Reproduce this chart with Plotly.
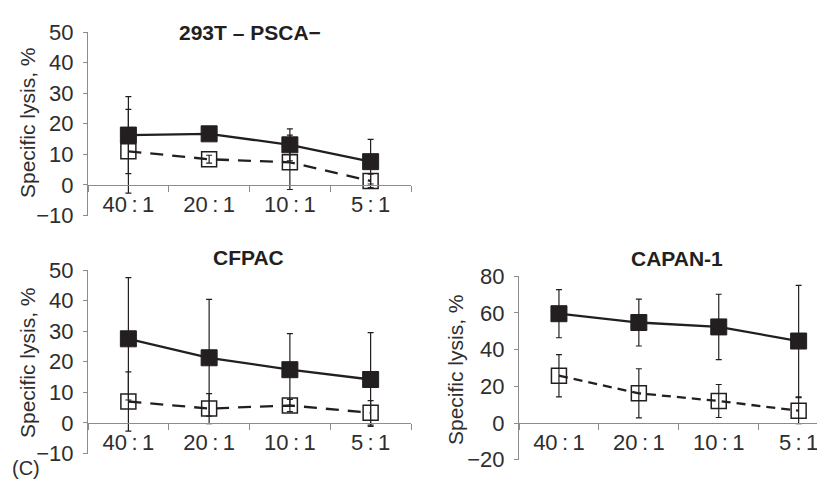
import plotly.graph_objects as go

W, H = 825, 481

ratios = ["40\u2009:\u20091", "20\u2009:\u20091", "10\u2009:\u20091", "5\u2009:\u20091"]

# 293T - PSCA-
p1_filled = [16.3, 16.7, 13.1, 7.6]
p1_filled_err = [12.6, 0.5, 5.2, 7.3]
p1_open = [11.0, 8.4, 7.4, 1.3]
p1_open_err = [13.7, 1.3, 8.9, 2.2]

# CFPAC
p2_filled = [27.5, 21.3, 17.4, 14.2]
p2_filled_err = [20.0, 19.1, 11.8, 15.3]
p2_open = [7.0, 4.7, 5.7, 3.3]
p2_open_err = [9.7, 4.9, 2.0, 4.0]

# CAPAN-1
p3_filled = [59.6, 54.8, 52.4, 44.7]
p3_filled_err = [13.1, 12.8, 17.8, 30.4]
p3_open = [25.8, 16.2, 12.0, 6.7]
p3_open_err = [11.5, 13.4, 9.0, 7.1]

titles = ["293T \u2013 PSCA\u2212", "CFPAC", "CAPAN-1"]
ytitle = "Specific lysis, %"

TXT = "#231f20"
TICKTXT = "#2e2e2e"
AX = "#8c8c8c"
FONT = "Liberation Sans, Arial, sans-serif"

def px_x(p):
    return p / W

def px_y(p):
    return 1 - p / H

panels = [
    dict(xd=[px_x(80), px_x(403)], yd=[px_y(207.5), px_y(24)], yr=[-10, 50], dt=10, xr=[-0.5, 3.5],
         f=p1_filled, fe=p1_filled_err, o=p1_open, oe=p1_open_err, dash="13px,9px"),
    dict(xd=[px_x(80), px_x(403)], yd=[px_y(445.5), px_y(262)], yr=[-10, 50], dt=10, xr=[-0.5, 3.5],
         f=p2_filled, fe=p2_filled_err, o=p2_open, oe=p2_open_err, dash="13px,9px"),
    dict(xd=[px_x(511), 1.0], yd=[px_y(451.7), px_y(268.3)], yr=[-20, 80], dt=20, xr=[-0.5, 3.43],
         f=p3_filled, fe=p3_filled_err, o=p3_open, oe=p3_open_err, dash="9px,6px"),
]

fig = go.Figure()
layout = dict(width=W, height=H, margin=dict(l=0, r=0, t=0, b=0), paper_bgcolor="white",
              plot_bgcolor="white", showlegend=False, font=dict(family=FONT, color=TXT))

for i, p in enumerate(panels, start=1):
    xa = "x" if i == 1 else f"x{i}"
    ya = "y" if i == 1 else f"y{i}"
    fig.add_trace(go.Scatter(x=ratios, y=p["o"], mode="lines+markers", xaxis=xa, yaxis=ya,
                             line=dict(color=TXT, width=2.3, dash=p["dash"]),
                             marker=dict(symbol="square-open", size=15, color=TXT, line=dict(width=1.5, color=TXT))))
    fig.add_trace(go.Scatter(x=ratios, y=p["f"], mode="lines+markers", xaxis=xa, yaxis=ya,
                             line=dict(color=TXT, width=2.3),
                             marker=dict(symbol="square", size=16, color=TXT, line=dict(width=1, color=TXT))))
    for vals, errs in ((p["o"], p["oe"]), (p["f"], p["fe"])):
        fig.add_trace(go.Scatter(x=ratios, y=vals, mode="markers", xaxis=xa, yaxis=ya,
                                 marker=dict(size=1, color="rgba(0,0,0,0)"),
                                 error_y=dict(type="data", array=errs, visible=True, color=TXT,
                                              thickness=1.2, width=3)))
    y0 = p["yd"][0] + (0 - p["yr"][0]) / (p["yr"][1] - p["yr"][0]) * (p["yd"][1] - p["yd"][0])
    kx = "xaxis" if i == 1 else f"xaxis{i}"
    ky = "yaxis" if i == 1 else f"yaxis{i}"
    layout[kx] = dict(domain=p["xd"], type="category", range=p["xr"], anchor="free", position=y0,
                      showline=True, linecolor=AX, linewidth=1, ticks="outside", tickson="boundaries",
                      ticklen=6, tickcolor=AX, tickwidth=1, showgrid=False, zeroline=False,
                      tickfont=dict(size=22, color=TICKTXT, family=FONT), automargin=False)
    layout[ky] = dict(domain=p["yd"], range=p["yr"], dtick=p["dt"], tick0=0, anchor=xa,
                      showline=True, linecolor=AX, linewidth=1, ticks="outside", ticklen=4,
                      tickcolor=AX, tickwidth=1, showgrid=False, zeroline=False, ticklabelstandoff=5,
                      tickfont=dict(size=22, color=TICKTXT, family=FONT), automargin=False)

annotations = [
    dict(text=f"<b>{titles[0]}</b>", x=px_x(242), y=px_y(25)),
    dict(text=f"<b>{titles[1]}</b>", x=px_x(240), y=px_y(249)),
    dict(text=f"<b>{titles[2]}</b>", x=px_x(669), y=px_y(250)),
]
for a in annotations:
    a.update(xref="paper", yref="paper", showarrow=False, xanchor="center", yanchor="middle",
             font=dict(size=21, color=TXT, family=FONT))
ylabs = [(19, 115), (19, 355), (447, 362)]
for (xx, yy) in ylabs:
    annotations.append(dict(text=ytitle, x=px_x(xx), y=px_y(yy), xref="paper", yref="paper",
                            showarrow=False, textangle=-90, xanchor="center", yanchor="middle",
                            font=dict(size=21, color=TICKTXT, family=FONT)))
annotations.append(dict(text="(C)", x=px_x(2), y=px_y(460), xref="paper", yref="paper",
                        showarrow=False, xanchor="left", yanchor="middle",
                        font=dict(size=20, color=TICKTXT, family=FONT)))
layout["annotations"] = annotations

fig.update_layout(**layout)
fig.write_html("out.html")
